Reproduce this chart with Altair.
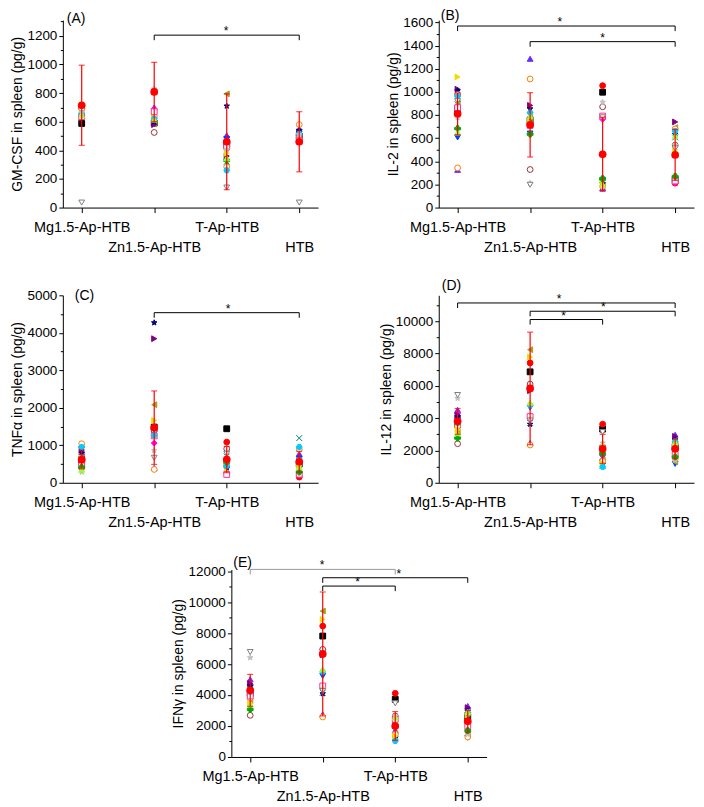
import math
import altair as alt
import pandas as pd

FONT = "Liberation Sans"

groups = ["Mg1.5-Ap-HTB", "Zn1.5-Ap-HTB", "T-Ap-HTB", "HTB"]
mice = [f"M{i+1}" for i in range(18)]

# ---- values (per group, one value per mouse marker; None = not shown) ----
gmcsf_mg = [588, 712, 705, 690, 718, 700, 625, 680, 695, 670, 690, 650, 635, 660, 665, 35, None, 645]
gmcsf_zn = [590, 808, 700, 610, 690, 585, 580, 600, 525, 660, 640, 630, 670, 620, 830, 810, None, 615]
gmcsf_t = [440, 460, 505, 480, 470, 795, 360, 710, 415, 320, 285, 380, 430, 260, 405, 140, 330, 345]
gmcsf_htb = [500, 460, 550, 530, 480, 490, 520, 540, 505, 495, 580, 475, 470, 515, 510, 35, None, None]
gmcsf_mean = [715, 808, 460, 460]
gmcsf_sd = [280, 207, 335, 210]
gmcsf_br = [(1, 3, 1205, 1.99, "k")]

il2_mg = [850, 820, 326, 606, 880, 906, 1023, 1010, 977, 940, 343, 1129, 863, 960, 777, 920, 683, 649]
il2_zn = [757, 720, 1286, 640, 730, 777, 883, 854, 329, 800, 1111, 740, 710, 820, 210, 197, 634, 790]
il2_t = [997, 1054, 169, 220, 763, 190, None, 206, 871, 240, 183, 230, 791, 250, 911, 780, 249, 200]
il2_htb = [240, 211, 471, 249, 211, 691, 740, 634, 540, 606, 680, 500, 230, 663, 540, 511, 269, 620]
il2_mean = [810, 715, 460, 455]
il2_sd = [180, 278, 320, 220]
il2_br = [(0, 3, 1569, 1.41, "k"), (1, 3, 1434, 2.0, "k")]

tnf_mg = [614, 507, 863, 900, 750, 596, 880, 792, 685, 700, 1041, 650, 450, 952, 285, 330, 418, 347]
tnf_zn = [1486, 1441, 400, 1300, 1059, 2082, 3843, 4270, 1400, 1350, 356, 1664, 1250, 1263, 863, 667, 1480, 1500]
tnf_t = [1441, 1085, 329, 356, 240, 600, 500, 420, 907, 700, 507, 300, 222, 450, 685, 774, 550, 614]
tnf_htb = [500, 151, 774, 640, 196, 525, 560, 600, 552, 1192, 890, 450, 230, 952, 489, 596, 285, 420]
tnf_mean = [620, 1470, 620, 560]
tnf_sd = [250, 980, 350, 280]
tnf_br = [(1, 3, 4537, 2.02, "k")]

il12_mg = [3600, 4000, 4508, 3996, 4303, 3176, 4200, 4098, 2418, 3850, 3500, 3279, 3791, 3700, 5225, 5430, 2766, 3074]
il12_zn = [6865, 7418, 2459, 4652, 6000, 8238, 5700, 3627, 6107, 3700, 2336, 7787, 4098, 4800, 3900, 3852, 5840, 4959]
il12_t = [3320, 3627, 1537, 1270, 1680, 1400, 1900, 1127, 2200, 1050, 1332, 1200, 2152, 984, 2459, 3135, 1800, 2357]
il12_htb = [2200, 2049, 2971, 1168, 1906, 1291, 2869, 2664, 2400, 2152, 1500, 2300, 1742, 2561, 1393, 2357, 1600, 2500]
il12_mean = [3800, 5840, 2100, 2100]
il12_sd = [800, 3480, 900, 600]
il12_br = [(0, 3, 11127, 1.40, "k"), (1, 3, 10615, 2.01, "k"), (1, 2, 10102, 1.46, "k")]

ifng_mg = [4100, 4366, 5011, 4473, 4688, 3613, 4750, 4581, 2688, 4400, 3800, 3462, 3935, 4200, 6409, 6774, 3075, 3398]
ifng_zn = [7806, 8452, 2753, 5226, 6950, 9419, 6600, 4086, 6946, 4150, 2581, 8882, 4581, 5500, 4400, 4258, 6624, 5656]
ifng_t = [3720, 4108, 1720, 1183, 1892, 1500, 2100, 1247, 2645, 1300, 1462, 1350, 2430, 1032, 2645, 3462, 2000, 2538]
ifng_htb = [2600, 2323, 3290, 1247, 2215, 1570, 3183, 2968, 2750, 2400, 1290, 2700, 2000, 2860, 1462, 2710, 1700, 2900]
ifng_mean = [4300, 6650, 2000, 2300]
ifng_sd = [1030, 4000, 930, 700]
ifng_br = [(0, 2, 12108, 0.99, "g"), (1, 3, 11570, 2.05, "k"), (1, 2, 11032, 1.48, "k")]

# ---- marker styles ----
def star_path():
    pts = []
    for i in range(10):
        r = 1.0 if i % 2 == 0 else 0.42
        a = -math.pi / 2 + i * math.pi / 5
        pts.append(f"{r*math.cos(a):.3f},{r*math.sin(a):.3f}")
    return "M" + "L".join(pts) + "Z"

def hex_path():
    pts = []
    for i in range(6):
        a = i * math.pi / 3
        pts.append(f"{math.cos(a):.3f},{math.sin(a):.3f}")
    return "M" + "L".join(pts) + "Z"

STAR = star_path()
HEX = hex_path()
XP = "M-1,-1L1,1M-1,1L1,-1"

colors = ["#000000", "#FF0000", "#6A2BFF", "#0040FF", "#FF00FF", "#A0A020", "#800080", "#000080",
          "#993333", "#008080", "#FF8000", "#F0DC00", "#FF3399", "#00CCFF", "#C0C0C0", "#808080",
          "#00AA00", "#99FF33"]
shapes = ["square", "circle", "triangle-up", "triangle-down", "diamond", "triangle-left",
          "triangle-right", STAR, "circle", XP, "circle", "triangle-right", "square", HEX, STAR,
          "triangle-down", "cross", "triangle-up"]
is_open = [False, False, False, False, False, False, False, False, True, True, True, False,
           True, False, False, True, False, False]
fills = ["white" if o else c for c, o in zip(colors, is_open)]

xexpr = ""
for i, g in enumerate(groups):
    lab = f"'{g}'" if i % 2 == 0 else f"['', '{g}']"
    xexpr += f"datum.value == {i} ? {lab} : "
xexpr += "''"

W, H = 256, 188


def panel(tag, ytitle, ymax, step, vals, means, sds, brackets, tdx, toff):
    rows = []
    for gi in range(len(groups)):
        for mi, m in enumerate(mice):
            v = vals[gi][mi]
            if v is not None:
                rows.append({"pos": gi, "mouse": m, "value": v})
    pts = pd.DataFrame(rows)
    stats = pd.DataFrame({"pos": list(range(len(groups))), "mean": means, "sd": sds})

    segs = []
    stars = []
    drop = 0.027 * ymax
    for (l, r, lev, sx, tone) in brackets:
        segs.append({"x1": l, "x2": r, "y1": lev, "y2": lev, "tone": tone})
        segs.append({"x1": l, "x2": l, "y1": lev, "y2": lev - drop, "tone": tone})
        segs.append({"x1": r, "x2": r, "y1": lev, "y2": lev - drop, "tone": tone})
        stars.append({"sx": sx, "lev": lev})
    segs = pd.DataFrame(segs)
    stars = pd.DataFrame(stars)

    xscale = alt.Scale(domain=[-0.26, 3.26], nice=False, zero=False)
    yscale = alt.Scale(domain=[0, ymax], nice=False)
    xaxis = alt.Axis(values=[0, 1, 2, 3], labelExpr=xexpr, tickSize=5, labelPadding=8,
                     labelLineHeight=20, labelFontSize=14.5, labelFlush=False,
                     labelOverlap=False, labelAngle=0)
    yvals = list(range(0, ymax + 1, step // 2))
    yaxis = alt.Axis(values=yvals, format="d",
                     labelExpr=f"datum.value % {step} == 0 ? datum.label : ''",
                     tickSize={"condition": {"test": f"datum.value % {step} == 0", "value": 4},
                               "value": 2.5},
                     labelPadding=2, labelFontSize=13.5, labelOverlap=False,
                     titleFontSize=14, titlePadding=2, titleFontWeight="normal")

    def X(f):
        return alt.X(f, scale=xscale, axis=xaxis, title=None)

    def Y(f):
        return alt.Y(f, scale=yscale, axis=yaxis, title=ytitle)

    points = alt.Chart(pts).mark_point(size=34, strokeWidth=1, opacity=1, fillOpacity=1).encode(
        x=X("pos:Q"), y=Y("value:Q"),
        shape=alt.Shape("mouse:N", scale=alt.Scale(domain=mice, range=shapes), legend=None),
        fill=alt.Fill("mouse:N", scale=alt.Scale(domain=mice, range=fills), legend=None),
        stroke=alt.Stroke("mouse:N", scale=alt.Scale(domain=mice, range=colors), legend=None),
    )
    base = alt.Chart(stats).transform_calculate(
        lo="datum.mean - datum.sd", hi="datum.mean + datum.sd")
    bar = base.mark_rule(color="#FF0000", strokeWidth=1.2).encode(
        x=X("pos:Q"), y=Y("lo:Q"), y2="hi:Q")
    caps = base.transform_fold(["lo", "hi"], as_=["end", "yv"]).mark_tick(
        color="#FF0000", orient="horizontal", size=6, thickness=1.2).encode(
        x=X("pos:Q"), y=Y("yv:Q"))
    mean = base.mark_point(shape="circle", filled=True, size=60, color="#FF0000", opacity=1).encode(
        x=X("pos:Q"), y=Y("mean:Q"))
    br = alt.Chart(segs).mark_rule(strokeWidth=1).encode(
        x=X("x1:Q"), x2="x2:Q", y=Y("y1:Q"), y2="y2:Q",
        color=alt.Color("tone:N", scale=alt.Scale(domain=["k", "g"], range=["#000000", "#9A9A9A"]),
                        legend=None))
    st = alt.Chart(stars).mark_text(text="*", fontSize=12, font=FONT, baseline="alphabetic",
                                    color="black").encode(x=X("sx:Q"), y=Y("lev:Q"))
    return alt.layer(points, bar, caps, mean, br, st).properties(
        width=W, height=H,
        title=alt.TitleParams(tag, anchor="start", frame="group", dx=tdx, offset=toff,
                              fontSize=14, fontWeight="normal", font=FONT, color="black"))


A = panel("(A)", "GM-CSF in spleen (pg/g)", 1310, 200,
          [gmcsf_mg, gmcsf_zn, gmcsf_t, gmcsf_htb], gmcsf_mean, gmcsf_sd, gmcsf_br, 4, -11)
B = panel("(B)", "IL-2 in spleen (pg/g)", 1620, 200,
          [il2_mg, il2_zn, il2_t, il2_htb], il2_mean, il2_sd, il2_br, 2, -8)
C = panel("(C)", "TNFα in spleen (pg/g)", 5000, 1000,
          [tnf_mg, tnf_zn, tnf_t, tnf_htb], tnf_mean, tnf_sd, tnf_br, 12, -15)
D = panel("(D)", "IL-12 in spleen (pg/g)", 11600, 2000,
          [il12_mg, il12_zn, il12_t, il12_htb], il12_mean, il12_sd, il12_br, 3, 0)
E = panel("(E)", "IFNγ in spleen (pg/g)", 12100, 2000,
          [ifng_mg, ifng_zn, ifng_t, ifng_htb], ifng_mean, ifng_sd, ifng_br, 2, -11)

spacer = alt.Chart(pd.DataFrame({"a": [0]})).mark_point(opacity=0, size=30).encode(
    x=alt.value(0), y=alt.value(-13)).properties(width=100, height=10)

row1 = alt.hconcat(A, B, spacing=121, bounds="flush")
row2 = alt.hconcat(C, D, spacing=121, bounds="flush")
row3 = alt.hconcat(spacer, E, spacing=69, bounds="flush")

chart = alt.vconcat(row1, row2, row3, spacing=24).properties(
    padding={"left": 2, "top": 0, "right": 2, "bottom": 0}
).configure_view(strokeWidth=0).configure_axis(
    grid=False, domainColor="black", tickColor="black", labelColor="black",
    titleColor="black", labelFont=FONT, titleFont=FONT
)

chart.save("out.html", embed_options={"renderer": "svg", "actions": False})
